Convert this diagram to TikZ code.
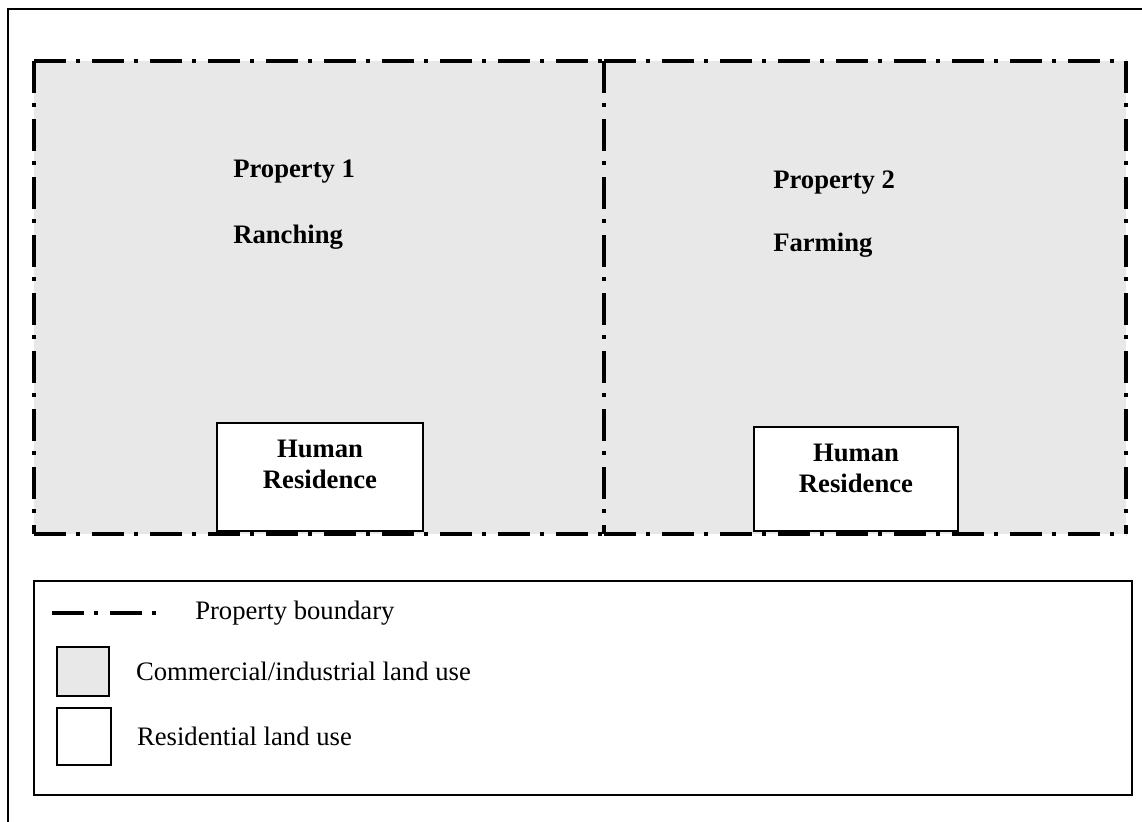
\documentclass[tikz,border=0pt]{standalone}
\usepackage{fontspec}
\setmainfont{Liberation Serif}
\usetikzlibrary{positioning}
\definecolor{landgray}{RGB}{232,232,232}
\tikzset{
  boundary/.style={line width=3pt, dash pattern=on 24pt off 7.5pt on 3pt off 9pt},
  resbox/.style={draw, line width=1.5pt, fill=white},
  keybox/.style={draw, line width=1.2pt},
  lbl/.style={font=\fontsize{20}{23.25}\selectfont, inner sep=0pt},
  blbl/.style={lbl, font=\fontsize{20}{23.25}\selectfont\bfseries}
}

\begin{document}
\begin{tikzpicture}[x=0.75pt,y=-0.75pt]
  \useasboundingbox (0,0) rectangle (1142,821);
  \draw [line width=1pt] (8,9) rectangle (1150,830);

  % properties
  \coordinate (p1tl) at (34,61);
  \coordinate (p1bl) at (34,534);
  \coordinate (midt) at (604,61);
  \coordinate (midb) at (604,534);
  \coordinate (p2tr) at (1126,61);
  \coordinate (p2br) at (1126,534);
  \fill [landgray] (p1tl) rectangle (p2br);

  \node (res1) [resbox, minimum width=154.5pt, minimum height=81pt] at (320,477) {};
  \node (res1txt) [blbl, align=center, below=13.5pt of res1.north] {Human\\Residence};
  \node (res2) [resbox, minimum width=153pt, minimum height=78pt] at (856,479) {};
  \node (res2txt) [blbl, align=center, below=13.5pt of res2.north] {Human\\Residence};

  \draw [boundary] (p1tl) -- (midt);
  \draw [boundary] (p1tl) -- (p1bl);
  \draw [boundary] (p1bl) -- (midb);
  \draw [boundary] (midt) -- (p2tr);
  \draw [boundary] (midt) -- (midb);
  \draw [boundary] (midb) -- (p2br);
  \draw [boundary] (p2tr) -- (p2br);

  \node (prop1) [blbl, anchor=west] at (233,172) {Property 1};
  \node (use1) [blbl, anchor=west] at (233,237) {Ranching};
  \node (prop2) [blbl, anchor=west] at (773,183) {Property 2};
  \node (use2) [blbl, anchor=west] at (773,245) {Farming};

  % legend
  \draw [line width=1.2pt] (34,581) rectangle (1132,795);
  \coordinate (keyA) at (52,613);
  \coordinate (keyB) at (167,613);
  \draw [boundary] (keyA) -- (keyB);
  \node (keytxt) [lbl, right=21pt of keyB] {Property boundary};

  \node (comsq) [keybox, fill=landgray, minimum width=39pt, minimum height=36.75pt] at (83,671.5) {};
  \node (comtxt) [lbl, right=19.5pt of comsq] {Commercial/industrial land use};

  \node (ressq) [keybox, fill=white, minimum width=40.5pt, minimum height=42.75pt] at (84,736.5) {};
  \node (restxt) [lbl, right=18.75pt of ressq] {Residential land use};
\end{tikzpicture}
\end{document}
